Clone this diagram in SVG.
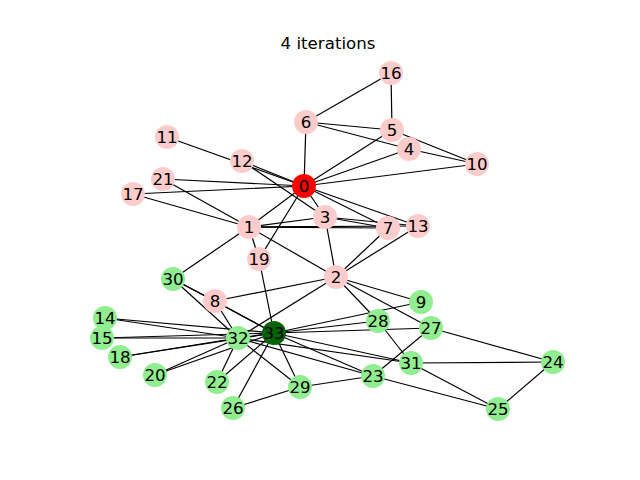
<svg xmlns="http://www.w3.org/2000/svg" width="640" height="480" viewBox="0 0 640 480">
  <style>
    .edge { stroke: #000; stroke-width: 1.2; fill: none; }
    .node circle { stroke: none; }
    .a circle { fill: #ffcccc; }
    .b circle { fill: #90ee90; }
    .node text { font-family: "DejaVu Sans", sans-serif; font-size: 16.67px; text-anchor: middle; fill: #000; }
    .title { font-family: "DejaVu Sans", sans-serif; font-size: 16.67px; text-anchor: middle; fill: #000; }
  </style>
  <rect width="640" height="480" fill="#fff"/>
  <text class="title" x="328" y="49">4 iterations</text>

  <!-- connectors -->
  <g id="edges" class="edge">
    <line x1="304" y1="186" x2="249" y2="227"/>
    <line x1="304" y1="186" x2="325" y2="217"/>
    <line x1="304" y1="186" x2="409" y2="149"/>
    <line x1="304" y1="186" x2="392" y2="130"/>
    <line x1="304" y1="186" x2="306" y2="122"/>
    <line x1="304" y1="186" x2="388" y2="228"/>
    <line x1="304" y1="186" x2="477" y2="164"/>
    <line x1="304" y1="186" x2="167" y2="137"/>
    <line x1="304" y1="186" x2="242" y2="161"/>
    <line x1="304" y1="186" x2="418" y2="226"/>
    <line x1="304" y1="186" x2="133" y2="194"/>
    <line x1="304" y1="186" x2="259" y2="259"/>
    <line x1="304" y1="186" x2="163" y2="179"/>
    <line x1="249" y1="227" x2="336" y2="277"/>
    <line x1="249" y1="227" x2="325" y2="217"/>
    <line x1="249" y1="227" x2="388" y2="228"/>
    <line x1="249" y1="227" x2="418" y2="226"/>
    <line x1="249" y1="227" x2="133" y2="194"/>
    <line x1="249" y1="227" x2="259" y2="259"/>
    <line x1="249" y1="227" x2="163" y2="179"/>
    <line x1="249" y1="227" x2="173" y2="279"/>
    <line x1="336" y1="277" x2="325" y2="217"/>
    <line x1="336" y1="277" x2="388" y2="228"/>
    <line x1="336" y1="277" x2="215" y2="301"/>
    <line x1="336" y1="277" x2="421" y2="302"/>
    <line x1="336" y1="277" x2="418" y2="226"/>
    <line x1="336" y1="277" x2="431" y2="328"/>
    <line x1="336" y1="277" x2="378" y2="321"/>
    <line x1="336" y1="277" x2="238" y2="338"/>
    <line x1="325" y1="217" x2="388" y2="228"/>
    <line x1="325" y1="217" x2="242" y2="161"/>
    <line x1="325" y1="217" x2="418" y2="226"/>
    <line x1="409" y1="149" x2="306" y2="122"/>
    <line x1="409" y1="149" x2="477" y2="164"/>
    <line x1="392" y1="130" x2="306" y2="122"/>
    <line x1="392" y1="130" x2="477" y2="164"/>
    <line x1="392" y1="130" x2="391" y2="73"/>
    <line x1="306" y1="122" x2="391" y2="73"/>
    <line x1="215" y1="301" x2="173" y2="279"/>
    <line x1="215" y1="301" x2="238" y2="338"/>
    <line x1="215" y1="301" x2="274" y2="333"/>
    <line x1="421" y1="302" x2="274" y2="333"/>
    <line x1="105" y1="318" x2="238" y2="338"/>
    <line x1="105" y1="318" x2="274" y2="333"/>
    <line x1="102" y1="338" x2="238" y2="338"/>
    <line x1="102" y1="338" x2="274" y2="333"/>
    <line x1="120" y1="357" x2="238" y2="338"/>
    <line x1="120" y1="357" x2="274" y2="333"/>
    <line x1="259" y1="259" x2="274" y2="333"/>
    <line x1="155" y1="375" x2="238" y2="338"/>
    <line x1="155" y1="375" x2="274" y2="333"/>
    <line x1="217" y1="382" x2="238" y2="338"/>
    <line x1="217" y1="382" x2="274" y2="333"/>
    <line x1="373" y1="376" x2="498" y2="409"/>
    <line x1="373" y1="376" x2="431" y2="328"/>
    <line x1="373" y1="376" x2="300" y2="387"/>
    <line x1="373" y1="376" x2="238" y2="338"/>
    <line x1="373" y1="376" x2="274" y2="333"/>
    <line x1="553" y1="362" x2="498" y2="409"/>
    <line x1="553" y1="362" x2="431" y2="328"/>
    <line x1="553" y1="362" x2="411" y2="363"/>
    <line x1="498" y1="409" x2="411" y2="363"/>
    <line x1="233" y1="408" x2="300" y2="387"/>
    <line x1="233" y1="408" x2="274" y2="333"/>
    <line x1="431" y1="328" x2="274" y2="333"/>
    <line x1="378" y1="321" x2="411" y2="363"/>
    <line x1="378" y1="321" x2="274" y2="333"/>
    <line x1="300" y1="387" x2="238" y2="338"/>
    <line x1="300" y1="387" x2="274" y2="333"/>
    <line x1="173" y1="279" x2="238" y2="338"/>
    <line x1="173" y1="279" x2="274" y2="333"/>
    <line x1="411" y1="363" x2="238" y2="338"/>
    <line x1="411" y1="363" x2="274" y2="333"/>
    <line x1="238" y1="338" x2="274" y2="333"/>
  </g>

  <!-- nodes -->
  <g id="n0" class="node"><circle cx="304" cy="186" r="12" fill="#ff0000"/><text x="304" y="192">0</text></g>
  <g id="n1" class="node a"><circle cx="249" cy="227" r="12"/><text x="249" y="233">1</text></g>
  <g id="n2" class="node a"><circle cx="336" cy="277" r="12"/><text x="336" y="283">2</text></g>
  <g id="n3" class="node a"><circle cx="325" cy="217" r="12"/><text x="325" y="223">3</text></g>
  <g id="n4" class="node a"><circle cx="409" cy="149" r="12"/><text x="409" y="155">4</text></g>
  <g id="n5" class="node a"><circle cx="392" cy="130" r="12"/><text x="392" y="136">5</text></g>
  <g id="n6" class="node a"><circle cx="306" cy="122" r="12"/><text x="306" y="128">6</text></g>
  <g id="n7" class="node a"><circle cx="388" cy="228" r="12"/><text x="388" y="234">7</text></g>
  <g id="n8" class="node a"><circle cx="215" cy="301" r="12"/><text x="215" y="307">8</text></g>
  <g id="n9" class="node b"><circle cx="421" cy="302" r="12"/><text x="421" y="308">9</text></g>
  <g id="n10" class="node a"><circle cx="477" cy="164" r="12"/><text x="477" y="170">10</text></g>
  <g id="n11" class="node a"><circle cx="167" cy="137" r="12"/><text x="167" y="143">11</text></g>
  <g id="n12" class="node a"><circle cx="242" cy="161" r="12"/><text x="242" y="167">12</text></g>
  <g id="n13" class="node a"><circle cx="418" cy="226" r="12"/><text x="418" y="232">13</text></g>
  <g id="n14" class="node b"><circle cx="105" cy="318" r="12"/><text x="105" y="324">14</text></g>
  <g id="n15" class="node b"><circle cx="102" cy="338" r="12"/><text x="102" y="344">15</text></g>
  <g id="n16" class="node a"><circle cx="391" cy="73" r="12"/><text x="391" y="79">16</text></g>
  <g id="n17" class="node a"><circle cx="133" cy="194" r="12"/><text x="133" y="200">17</text></g>
  <g id="n18" class="node b"><circle cx="120" cy="357" r="12"/><text x="120" y="363">18</text></g>
  <g id="n19" class="node a"><circle cx="259" cy="259" r="12"/><text x="259" y="265">19</text></g>
  <g id="n20" class="node b"><circle cx="155" cy="375" r="12"/><text x="155" y="381">20</text></g>
  <g id="n21" class="node a"><circle cx="163" cy="179" r="12"/><text x="163" y="185">21</text></g>
  <g id="n22" class="node b"><circle cx="217" cy="382" r="12"/><text x="217" y="388">22</text></g>
  <g id="n23" class="node b"><circle cx="373" cy="376" r="12"/><text x="373" y="382">23</text></g>
  <g id="n24" class="node b"><circle cx="553" cy="362" r="12"/><text x="553" y="368">24</text></g>
  <g id="n25" class="node b"><circle cx="498" cy="409" r="12"/><text x="498" y="415">25</text></g>
  <g id="n26" class="node b"><circle cx="233" cy="408" r="12"/><text x="233" y="414">26</text></g>
  <g id="n27" class="node b"><circle cx="431" cy="328" r="12"/><text x="431" y="334">27</text></g>
  <g id="n28" class="node b"><circle cx="378" cy="321" r="12"/><text x="378" y="327">28</text></g>
  <g id="n29" class="node b"><circle cx="300" cy="387" r="12"/><text x="300" y="393">29</text></g>
  <g id="n30" class="node b"><circle cx="173" cy="279" r="12"/><text x="173" y="285">30</text></g>
  <g id="n31" class="node b"><circle cx="411" cy="363" r="12"/><text x="411" y="369">31</text></g>
  <g id="n32" class="node b"><circle cx="238" cy="338" r="12"/><text x="238" y="344">32</text></g>
  <g id="n33" class="node"><circle cx="274" cy="333" r="12" fill="#006400"/><text x="274" y="339">33</text></g>
</svg>
